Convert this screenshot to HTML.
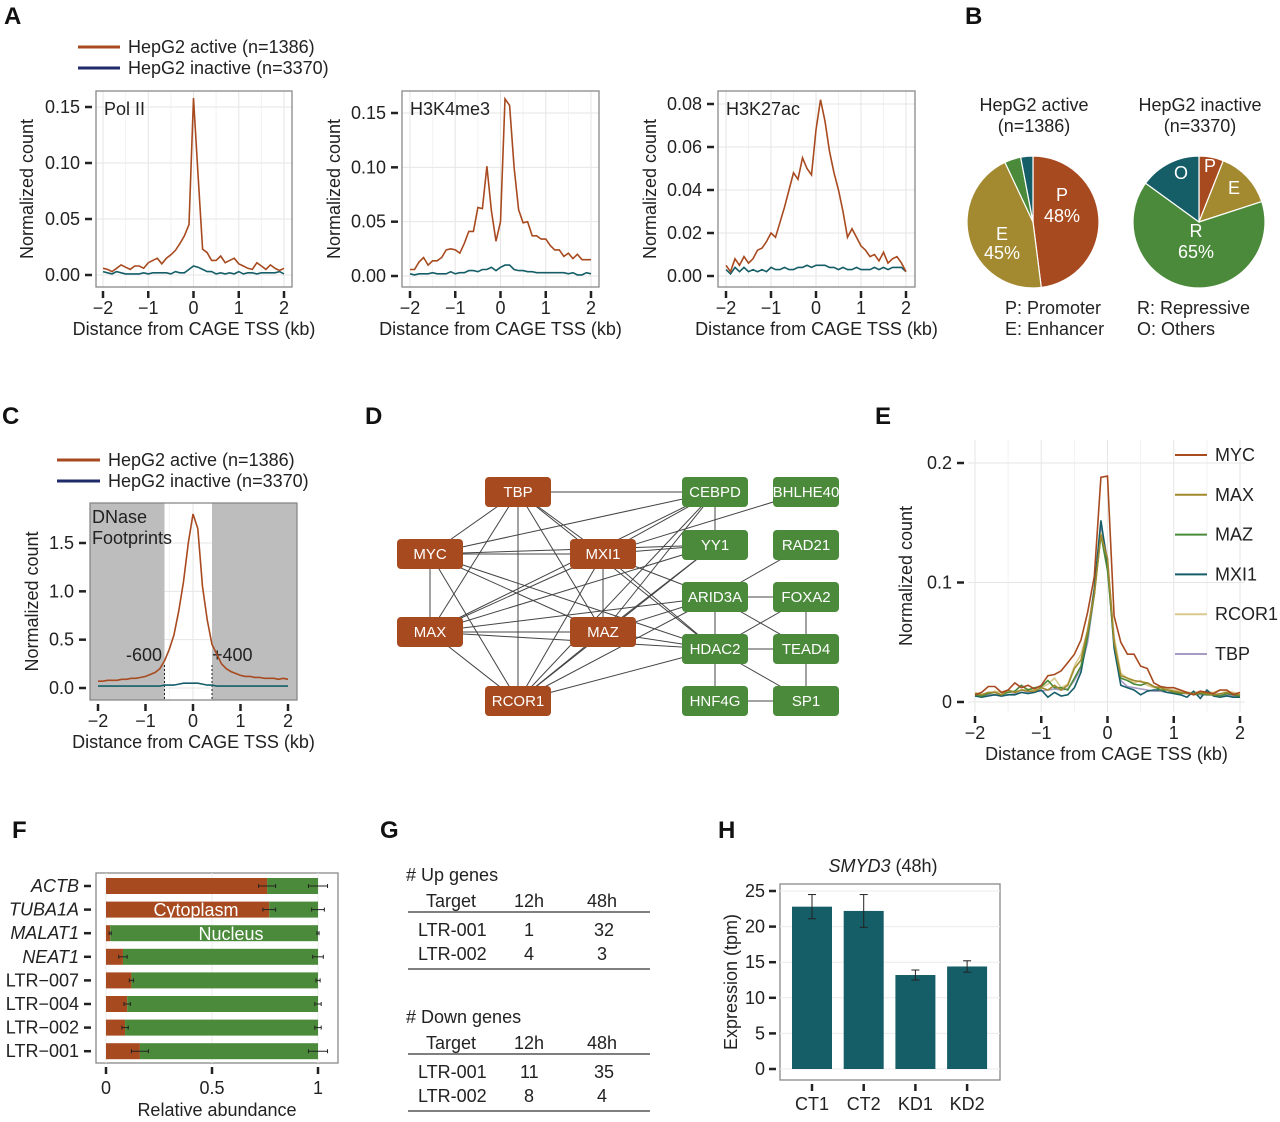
<!DOCTYPE html>
<html><head><meta charset="utf-8"><style>
html,body{margin:0;padding:0;background:#fff;}
svg{display:block;font-family:"Liberation Sans",Arial,sans-serif;}
</style></head><body>
<svg id="fig" width="1280" height="1122" viewBox="0 0 1280 1122" xmlns="http://www.w3.org/2000/svg">
<g font-weight="bold" font-size="24" fill="#111">
<text x="4" y="24">A</text>
<text x="965" y="24">B</text>
<text x="2" y="424">C</text>
<text x="365" y="424">D</text>
<text x="875" y="424">E</text>
<text x="12" y="838">F</text>
<text x="380" y="838">G</text>
<text x="718" y="838">H</text>
</g>
<g font-size="18" fill="#222">
<line x1="78" y1="47" x2="120" y2="47" stroke="#a84a1f" stroke-width="3"/><text x="128" y="53">HepG2 active (n=1386)</text>
<line x1="78" y1="68" x2="120" y2="68" stroke="#1f2a6b" stroke-width="3"/><text x="128" y="74">HepG2 inactive (n=3370)</text>
</g>
<g font-size="18" fill="#222">
<line x1="57" y1="460" x2="100" y2="460" stroke="#a84a1f" stroke-width="3"/><text x="108" y="466">HepG2 active (n=1386)</text>
<line x1="57" y1="481" x2="100" y2="481" stroke="#1f2a6b" stroke-width="3"/><text x="108" y="487">HepG2 inactive (n=3370)</text>
</g>
<g id="root"></g>
<g font-size="18" fill="#222">
<text x="406" y="881">#  Up genes</text>
<text x="426" y="907">Target</text><text x="514" y="907">12h</text><text x="587" y="907">48h</text>
<line x1="408" y1="912" x2="650" y2="912" stroke="#333" stroke-width="1.3"/>
<text x="418" y="936">LTR-001</text><text x="524" y="936">1</text><text x="594" y="936">32</text>
<text x="418" y="960">LTR-002</text><text x="524" y="960">4</text><text x="597" y="960">3</text>
<line x1="408" y1="969" x2="650" y2="969" stroke="#333" stroke-width="1.3"/>
<text x="406" y="1023">#  Down genes</text>
<text x="426" y="1049">Target</text><text x="514" y="1049">12h</text><text x="587" y="1049">48h</text>
<line x1="408" y1="1054" x2="650" y2="1054" stroke="#333" stroke-width="1.3"/>
<text x="418" y="1078">LTR-001</text><text x="520" y="1078">11</text><text x="594" y="1078">35</text>
<text x="418" y="1102">LTR-002</text><text x="524" y="1102">8</text><text x="597" y="1102">4</text>
<line x1="408" y1="1111" x2="650" y2="1111" stroke="#333" stroke-width="1.3"/>
</g>
</svg>
<script>
// ---------- DATA ----------
const distKb = []; for (let i = 0; i <= 40; i++) distKb.push(-2 + i * 0.1);
const polActive = [0.006,0.005,0.003,0.006,0.009,0.007,0.005,0.008,0.008,0.006,
 0.011,0.013,0.015,0.010,0.015,0.018,0.022,0.028,0.035,0.045,
 0.158,0.090,0.023,0.020,0.013,0.013,0.017,0.011,0.013,0.015,
 0.010,0.008,0.006,0.005,0.011,0.008,0.005,0.009,0.006,0.004,0.006];
const polInactive = [0.003,0.002,0.001,0.003,0.002,0.001,0.001,0.001,0.001,0.002,
 0.001,0.002,0.002,0.002,0.002,0.001,0.003,0.002,0.002,0.005,
 0.008,0.007,0.005,0.003,0.003,0.001,0.002,0.001,0.002,0.001,
 0.003,0.001,0.002,0.002,0.001,0.002,0.002,0.002,0.002,0.003,0.001];
const k4Active = [0.006,0.006,0.013,0.017,0.010,0.014,0.014,0.017,0.024,0.025,
 0.024,0.021,0.030,0.041,0.041,0.063,0.062,0.101,0.060,0.032,
 0.050,0.163,0.157,0.100,0.061,0.049,0.050,0.037,0.037,0.034,
 0.034,0.028,0.024,0.024,0.018,0.021,0.016,0.020,0.015,0.015,0.015];
const k4Inactive = [0.002,0.001,0.002,0.002,0.002,0.003,0.002,0.002,0.002,0.004,
 0.002,0.003,0.003,0.005,0.005,0.004,0.006,0.006,0.008,0.005,
 0.008,0.010,0.010,0.006,0.005,0.005,0.004,0.004,0.003,0.003,
 0.003,0.003,0.003,0.003,0.003,0.002,0.003,0.001,0.001,0.003,0.002];
const k27Active = [0.005,0.002,0.008,0.005,0.009,0.006,0.008,0.012,0.013,0.016,
 0.020,0.018,0.025,0.032,0.040,0.048,0.045,0.055,0.050,0.047,
 0.068,0.082,0.072,0.058,0.048,0.040,0.030,0.018,0.022,0.018,
 0.014,0.012,0.009,0.010,0.007,0.011,0.006,0.008,0.009,0.006,0.002];
const k27Inactive = [0.003,0.001,0.004,0.002,0.004,0.002,0.003,0.002,0.003,0.002,
 0.004,0.003,0.003,0.004,0.003,0.003,0.004,0.004,0.005,0.004,
 0.005,0.005,0.005,0.004,0.004,0.003,0.004,0.003,0.003,0.004,
 0.003,0.003,0.003,0.004,0.003,0.004,0.003,0.004,0.004,0.004,0.002];
const dnaseActive = [0.07,0.07,0.08,0.08,0.08,0.09,0.09,0.10,0.10,0.11,
 0.12,0.14,0.16,0.20,0.28,0.40,0.55,0.80,1.10,1.50,
 1.80,1.65,1.05,0.70,0.45,0.35,0.25,0.20,0.17,0.15,
 0.13,0.12,0.12,0.11,0.11,0.10,0.10,0.10,0.09,0.10,0.09];
const dnaseInactive = [0.02,0.02,0.02,0.02,0.02,0.02,0.02,0.02,0.02,0.02,
 0.02,0.02,0.02,0.02,0.03,0.03,0.03,0.04,0.05,0.05,
 0.05,0.05,0.04,0.03,0.03,0.02,0.02,0.02,0.02,0.02,
 0.02,0.02,0.02,0.02,0.02,0.02,0.02,0.02,0.02,0.02,0.02];
const tfNames = ["MYC","MAX","MAZ","MXI1","RCOR1","TBP"];
const tfMYC = [0.006,0.008,0.013,0.013,0.008,0.010,0.016,0.012,0.014,0.011,
 0.014,0.022,0.023,0.026,0.033,0.040,0.052,0.075,0.105,0.188,
 0.189,0.072,0.050,0.040,0.040,0.030,0.028,0.016,0.013,0.012,
 0.012,0.010,0.008,0.006,0.009,0.008,0.007,0.010,0.010,0.006,0.008];
const tfMAX = [0.007,0.006,0.008,0.008,0.006,0.010,0.008,0.010,0.009,0.009,
 0.012,0.010,0.014,0.010,0.014,0.028,0.035,0.060,0.090,0.140,
 0.120,0.050,0.022,0.020,0.018,0.017,0.016,0.013,0.012,0.010,
 0.009,0.008,0.007,0.007,0.008,0.007,0.006,0.007,0.008,0.007,0.006];
const tfMAZ = [0.006,0.005,0.007,0.008,0.006,0.008,0.009,0.014,0.010,0.012,
 0.013,0.018,0.012,0.012,0.010,0.020,0.030,0.055,0.090,0.140,
 0.110,0.050,0.020,0.018,0.015,0.014,0.016,0.013,0.010,0.010,
 0.008,0.007,0.008,0.006,0.007,0.006,0.006,0.005,0.007,0.006,0.005];
const tfMXI1 = [0.005,0.004,0.005,0.006,0.005,0.006,0.006,0.008,0.007,0.008,
 0.010,0.004,0.008,0.005,0.006,0.012,0.025,0.055,0.095,0.152,
 0.115,0.045,0.014,0.012,0.010,0.006,0.009,0.010,0.010,0.008,
 0.007,0.006,0.004,0.009,0.003,0.010,0.005,0.004,0.005,0.004,0.004];
const tfRCOR1 = [0.008,0.006,0.007,0.009,0.008,0.009,0.008,0.010,0.011,0.010,
 0.012,0.015,0.020,0.012,0.015,0.030,0.040,0.060,0.095,0.142,
 0.118,0.055,0.024,0.020,0.016,0.018,0.014,0.012,0.012,0.011,
 0.010,0.009,0.008,0.008,0.009,0.008,0.008,0.010,0.009,0.008,0.007];
const tfTBP = [0.005,0.005,0.006,0.006,0.005,0.006,0.007,0.008,0.008,0.009,
 0.009,0.010,0.011,0.010,0.011,0.018,0.028,0.050,0.090,0.148,
 0.120,0.050,0.018,0.013,0.012,0.011,0.010,0.009,0.009,0.008,
 0.008,0.007,0.007,0.007,0.006,0.006,0.006,0.006,0.006,0.005,0.005];
const pieActiveLabels = ["P","E","O","R"];
const pieActive = [48,45,4,3];
const pieInactiveLabels = ["P","E","R","O"];
const pieInactive = [6,14,65,15];
const geneNames = ["ACTB","TUBA1A","MALAT1","NEAT1","LTR−007","LTR−004","LTR−002","LTR−001"];
const cytoFrac = [0.76,0.77,0.02,0.08,0.12,0.10,0.09,0.16];
const cytoErr = [0.04,0.03,0.005,0.02,0.01,0.015,0.015,0.04];
const nucErr = [0.045,0.03,0.005,0.025,0.01,0.015,0.015,0.045];
const smydGroups = ["CT1","CT2","KD1","KD2"];
const smydValues = [22.8,22.2,13.2,14.4];
const smydErr = [1.7,2.3,0.7,0.8];

// ---------- helpers ----------
const NS = "http://www.w3.org/2000/svg";
const root = document.getElementById('root');
const FS = 18;
function mk(tag, attrs, parent) {
  const el = document.createElementNS(NS, tag);
  for (const k in attrs) el.setAttribute(k, attrs[k]);
  (parent || root).appendChild(el);
  return el;
}
function txt(s, attrs, parent) { const t = mk('text', attrs, parent); t.textContent = s; return t; }
const ORANGE = "#a84a1f", TEAL = "#155e68", GREEN = "#4a8a3a", OLIVE = "#a3892f";

function linePanel(o) {
  const xs = v => o.x0 + (v - o.xmin) / (o.xmax - o.xmin) * (o.x1 - o.x0);
  const ys = v => o.y0 - (v - o.ymin) / (o.ymax - o.ymin) * (o.y0 - o.y1);
  const g = mk('g', {});
  
  
  if (o.frame) {
    const fr = mk('rect', {x: o.fx0, y: o.fy0, width: o.fx1 - o.fx0, height: o.fy1 - o.fy0, fill: '#fff'}, g);
    
    
  }
  o.xticks.forEach(v => mk('line', {x1: xs(v), x2: xs(v), y1: o.fy0, y2: o.fy1, stroke: '#e6e6e6', 'stroke-width': 1}, g));
  o.xticks.slice(0, -1).forEach(v => mk('line', {x1: xs(v + 0.5), x2: xs(v + 0.5), y1: o.fy0, y2: o.fy1, stroke: '#f2f2f2', 'stroke-width': 1}, g));
  o.yticks.forEach(v => mk('line', {x1: o.fx0, x2: o.fx1, y1: ys(v), y2: ys(v), stroke: '#e6e6e6', 'stroke-width': 1}, g));
  if (o.shade) o.shade(g, xs);
  if (o.frame) {
    const fr = mk('rect', {x: o.fx0, y: o.fy0, width: o.fx1 - o.fx0, height: o.fy1 - o.fy0, fill: 'none', stroke: '#888', 'stroke-width': 1.3}, g);
    
    
  }
  o.yticks.forEach((v, i) => {
    mk('line', {x1: o.fx0 - 11, x2: o.fx0 - 4, y1: ys(v), y2: ys(v), stroke: '#222', 'stroke-width': 2.5}, g);
    const t = txt(o.ylabels[i], {x: o.fx0 - 16, y: ys(v) + 6, 'text-anchor': 'end', 'font-size': FS, fill: '#222'}, g);
    
    
  });
  o.xticks.forEach((v, i) => {
    mk('line', {x1: xs(v), x2: xs(v), y1: o.fy1 + 4, y2: o.fy1 + 11, stroke: '#222', 'stroke-width': 2.5}, g);
    const t = txt(o.xlabels[i], {x: xs(v), y: o.fy1 + 27, 'text-anchor': 'middle', 'font-size': FS, fill: '#222'}, g);
    
    
  });
  const xt = txt('Distance from CAGE TSS (kb)', {x: (o.xtitleX || (o.fx0 + o.fx1) / 2), y: o.fy1 + 48, 'text-anchor': 'middle', 'font-size': FS, fill: '#222'}, g);
  
  
  const yt = txt('Normalized count', {x: 0, y: 0, transform: `translate(${o.ytX},${(o.fy0 + o.fy1) / 2}) rotate(-90)`, 'text-anchor': 'middle', 'font-size': FS, fill: '#222'}, g);
  
  
  o.series.forEach(s => {
    const d = s.vals.map((v, i) => (i ? 'L' : 'M') + xs(distKb[i]).toFixed(1) + ',' + ys(v).toFixed(1)).join('');
    const p = mk('path', {d: d, fill: 'none', stroke: s.color, 'stroke-width': 1.6}, g);
    
    
  });
  if (o.title) {
    const t = txt(o.title, {x: o.fx0 + 8, y: o.fy0 + 24, 'font-size': FS, fill: '#222'}, g);
    
    
  }
  return {xs, ys, g};
}

// ---------- Panel A ----------
linePanel({name: 'chart-pol2', frame: true, fx0: 96, fx1: 292, fy0: 91, fy1: 287,
  xmin: -2, xmax: 2, x0: 103, x1: 284, ymin: 0, ymax: 0.15, y0: 275, y1: 107,
  xticks: [-2,-1,0,1,2], xlabels: ['−2','−1','0','1','2'],
  yticks: [0,0.05,0.10,0.15], ylabels: ['0.00','0.05','0.10','0.15'], ytX: 33, title: 'Pol II',
  series: [{vals: polInactive, color: TEAL, name: 'line-pol2-inactive'}, {vals: polActive, color: ORANGE, name: 'line-pol2-active'}]});
linePanel({name: 'chart-h3k4me3', frame: true, fx0: 402, fx1: 599, fy0: 91, fy1: 287,
  xmin: -2, xmax: 2, x0: 410, x1: 591, ymin: 0, ymax: 0.15, y0: 276, y1: 113,
  xticks: [-2,-1,0,1,2], xlabels: ['−2','−1','0','1','2'],
  yticks: [0,0.05,0.10,0.15], ylabels: ['0.00','0.05','0.10','0.15'], ytX: 340, title: 'H3K4me3',
  series: [{vals: k4Inactive, color: TEAL, name: 'line-h3k4me3-inactive'}, {vals: k4Active, color: ORANGE, name: 'line-h3k4me3-active'}]});
linePanel({name: 'chart-h3k27ac', frame: true, fx0: 718, fx1: 915, fy0: 91, fy1: 287,
  xmin: -2, xmax: 2, x0: 726, x1: 906, ymin: 0, ymax: 0.08, y0: 276, y1: 104,
  xticks: [-2,-1,0,1,2], xlabels: ['−2','−1','0','1','2'],
  yticks: [0,0.02,0.04,0.06,0.08], ylabels: ['0.00','0.02','0.04','0.06','0.08'], ytX: 656, title: 'H3K27ac',
  series: [{vals: k27Inactive, color: TEAL, name: 'line-h3k27ac-inactive'}, {vals: k27Active, color: ORANGE, name: 'line-h3k27ac-active'}]});

// ---------- Panel C ----------
linePanel({name: 'chart-dnase', frame: true, fx0: 90, fx1: 297, fy0: 503, fy1: 700,
  xmin: -2, xmax: 2, x0: 98, x1: 288, ymin: 0, ymax: 1.5, y0: 688, y1: 543,
  xticks: [-2,-1,0,1,2], xlabels: ['−2','−1','0','1','2'],
  yticks: [0,0.5,1.0,1.5], ylabels: ['0.0','0.5','1.0','1.5'], ytX: 38,
  shade: (g, xs) => {
    const a = mk('rect', {x: 90, y: 503, width: xs(-0.6) - 90, height: 197, fill: '#bdbdbd'}, g);
    
    
    const b = mk('rect', {x: xs(0.4), y: 503, width: 297 - xs(0.4), height: 197, fill: '#bdbdbd'}, g);
    
    
    mk('line', {x1: xs(-0.6), x2: xs(-0.6), y1: 665, y2: 700, stroke: '#222', 'stroke-dasharray': '2,2'}, g);
    mk('line', {x1: xs(0.4), x2: xs(0.4), y1: 665, y2: 700, stroke: '#222', 'stroke-dasharray': '2,2'}, g);
    txt('DNase', {x: 92, y: 523, 'font-size': FS, fill: '#222'}, g);
    txt('Footprints', {x: 92, y: 544, 'font-size': FS, fill: '#222'}, g);
    txt('-600', {x: 126, y: 661, 'font-size': FS, fill: '#222'}, g);
    txt('+400', {x: 212, y: 661, 'font-size': FS, fill: '#222'}, g);
  },
  series: [{vals: dnaseInactive, color: TEAL, name: 'line-dnase-inactive'}, {vals: dnaseActive, color: ORANGE, name: 'line-dnase-active'}]});

// ---------- Panel E ----------
const tfColors = [ORANGE, "#a0892c", "#4a8a3a", "#155e68", "#d9c98f", "#a79bc4"];
const tfSeries = [tfMYC, tfMAX, tfMAZ, tfMXI1, tfRCOR1, tfTBP];
linePanel({name: 'chart-tf-profiles', frame: false, fx0: 968, fx1: 1245, fy0: 440, fy1: 712,
  xmin: -2, xmax: 2, x0: 975, x1: 1240, ymin: 0, ymax: 0.2, y0: 702, y1: 463,
  xticks: [-2,-1,0,1,2], xlabels: ['−2','−1','0','1','2'],
  yticks: [0,0.1,0.2], ylabels: ['0','0.1','0.2'], ytX: 912,
  series: tfSeries.map((v, i) => ({vals: v, color: tfColors[i], name: 'line-' + tfNames[i].toLowerCase()})).reverse()});
tfNames.forEach((n, i) => {
  const y = 455 + i * 39.8;
  const g = mk('g', {});
  
  
  mk('line', {x1: 1175, x2: 1207, y1: y, y2: y, stroke: tfColors[i], 'stroke-width': 2}, g);
  txt(n, {x: 1215, y: y + 6, 'font-size': FS, fill: '#222'}, g);
});

// ---------- Panel B pies ----------
function pie(cx, cy, r, vals, labels, colors, name, labelPos) {
  const g = mk('g', {});
  
  
  const tot = vals.reduce((a, b) => a + b, 0);
  let a0 = 0;
  vals.forEach((v, i) => {
    const a1 = a0 + v / tot * 2 * Math.PI;
    const p0 = [cx + r * Math.sin(a0), cy - r * Math.cos(a0)], p1 = [cx + r * Math.sin(a1), cy - r * Math.cos(a1)];
    const large = (a1 - a0) > Math.PI ? 1 : 0;
    const s = mk('path', {d: `M${cx},${cy}L${p0[0]},${p0[1]}A${r},${r} 0 ${large} 1 ${p1[0]},${p1[1]}Z`, fill: colors[i], stroke: '#fff', 'stroke-width': 1.2}, g);
    
    
    a0 = a1;
  });
  labelPos.forEach(lp => txt(lp[0], {x: lp[1], y: lp[2], 'text-anchor': 'middle', 'font-size': FS, fill: '#fff'}, g));
}
pie(1033, 222, 66, pieActive, pieActiveLabels, [ORANGE, OLIVE, GREEN, TEAL], 'pie-active',
  [['P', 1062, 201], ['48%', 1062, 222], ['E', 1002, 240], ['45%', 1002, 259]]);
pie(1199, 222, 66, pieInactive, pieInactiveLabels, [ORANGE, OLIVE, GREEN, TEAL], 'pie-inactive',
  [['P', 1210, 172], ['E', 1234, 194], ['R', 1196, 237], ['65%', 1196, 258], ['O', 1181, 179]]);
[['HepG2 active', 1034, 111], ['(n=1386)', 1034, 132], ['HepG2 inactive', 1200, 111], ['(n=3370)', 1200, 132]].forEach(t => {
  const e = txt(t[0], {x: t[1], y: t[2], 'text-anchor': 'middle', 'font-size': FS, fill: '#222'});
  
  
});
[['P: Promoter', 1005, 314], ['E: Enhancer', 1005, 335], ['R: Repressive', 1137, 314], ['O: Others', 1137, 335]].forEach(t => {
  const e = txt(t[0], {x: t[1], y: t[2], 'font-size': FS, fill: '#222'});
  
  
});

// ---------- Panel D network ----------
const nodeNames = ["TBP","MYC","MXI1","MAX","MAZ","RCOR1","CEBPD","BHLHE40","YY1","RAD21","ARID3A","FOXA2","HDAC2","TEAD4","HNF4G","SP1"];
const nodeX = [518,430,603,430,603,518,715,806,715,806,715,806,715,806,715,806];
const nodeY = [492,554,554,632,632,701,492,492,545,545,597,597,649,649,701,701];
const edges = [["TBP","CEBPD"],["TBP","MYC"],["TBP","MXI1"],["TBP","MAX"],["TBP","MAZ"],["TBP","RCOR1"],["TBP","HDAC2"],
 ["MYC","MXI1"],["MYC","MAX"],["MYC","MAZ"],["MYC","RCOR1"],["MYC","CEBPD"],["MYC","YY1"],["MYC","HDAC2"],
 ["MXI1","CEBPD"],["MXI1","YY1"],["MXI1","BHLHE40"],["MXI1","MAZ"],["MXI1","MAX"],["MXI1","RCOR1"],["MXI1","ARID3A"],["MXI1","HDAC2"],
 ["MAX","MAZ"],["MAX","RCOR1"],["MAX","YY1"],["MAX","ARID3A"],["MAX","HDAC2"],["MAX","CEBPD"],
 ["MAZ","CEBPD"],["MAZ","YY1"],["MAZ","ARID3A"],["MAZ","HDAC2"],["MAZ","RCOR1"],
 ["RCOR1","YY1"],["RCOR1","ARID3A"],["RCOR1","HDAC2"],["RCOR1","CEBPD"],
 ["CEBPD","YY1"],["RAD21","ARID3A"],["ARID3A","FOXA2"],["ARID3A","HDAC2"],["ARID3A","TEAD4"],
 ["FOXA2","HDAC2"],["FOXA2","TEAD4"],["HDAC2","TEAD4"],["HDAC2","HNF4G"],["HDAC2","SP1"],["TEAD4","SP1"],["HNF4G","SP1"]];
const ni = n => nodeNames.indexOf(n);
edges.forEach(e => {
  const a = ni(e[0]), b = ni(e[1]);
  const l = mk('line', {x1: nodeX[a], y1: nodeY[a], x2: nodeX[b], y2: nodeY[b], stroke: '#444', 'stroke-width': 1});
  
  
});
nodeNames.forEach((n, i) => {
  const g = mk('g', {});
  
  
  mk('rect', {x: nodeX[i] - 33, y: nodeY[i] - 15, width: 66, height: 30, rx: 4, fill: i < 6 ? ORANGE : GREEN}, g);
  txt(n, {x: nodeX[i], y: nodeY[i] + 5, 'text-anchor': 'middle', 'font-size': 15, fill: '#fff'}, g);
});

// ---------- Panel F ----------
(function () {
  const x0 = 106, x1 = 318;
  const xs = v => x0 + v * (x1 - x0);
  const rowY = i => 886 + i * 23.6;
  const g = mk('g', {});
  
  
  mk('rect', {x: 96, y: 873, width: 242, height: 190, fill: '#fff', stroke: '#888', 'stroke-width': 1.3}, g);
  [0, 0.5, 1].forEach(v => mk('line', {x1: xs(v), x2: xs(v), y1: 873, y2: 1063, stroke: '#ebebeb'}, g));
  geneNames.forEach((n, i) => {
    const y = rowY(i);
    const c = mk('rect', {x: xs(0), y: y - 8, width: xs(cytoFrac[i]) - xs(0), height: 16, fill: ORANGE}, g);
    
    
    const nu = mk('rect', {x: xs(cytoFrac[i]), y: y - 8, width: xs(1) - xs(cytoFrac[i]), height: 16, fill: GREEN}, g);
    
    
    [[cytoFrac[i], cytoErr[i]], [1, nucErr[i]]].forEach(p => {
      mk('line', {x1: xs(p[0] - p[1]), x2: xs(p[0] + p[1]), y1: y, y2: y, stroke: '#222', 'stroke-width': 1}, g);
      mk('line', {x1: xs(p[0] - p[1]), x2: xs(p[0] - p[1]), y1: y - 2, y2: y + 2, stroke: '#222'}, g);
      mk('line', {x1: xs(p[0] + p[1]), x2: xs(p[0] + p[1]), y1: y - 2, y2: y + 2, stroke: '#222'}, g);
    });
    mk('line', {x1: 84, x2: 91, y1: y, y2: y, stroke: '#222', 'stroke-width': 2.5}, g);
    const t = txt(n, {x: 79, y: y + 6, 'text-anchor': 'end', 'font-size': FS, fill: '#222', 'font-style': i < 4 ? 'italic' : 'normal'}, g);
    
    
  });
  txt('Cytoplasm', {x: 196, y: 916, 'text-anchor': 'middle', 'font-size': FS, fill: '#fff'}, g);
  txt('Nucleus', {x: 231, y: 940, 'text-anchor': 'middle', 'font-size': FS, fill: '#fff'}, g);
  [[0, '0'], [0.5, '0.5'], [1, '1']].forEach(p => {
    mk('line', {x1: xs(p[0]), x2: xs(p[0]), y1: 1067, y2: 1074, stroke: '#222', 'stroke-width': 2.5}, g);
    const t = txt(p[1], {x: xs(p[0]), y: 1094, 'text-anchor': 'middle', 'font-size': FS, fill: '#222'}, g);
    
    
  });
  const xt = txt('Relative abundance', {x: 217, y: 1116, 'text-anchor': 'middle', 'font-size': FS, fill: '#222'}, g);
  
  
})();

// ---------- Panel H ----------
(function () {
  const y0 = 1069, y25 = 891;
  const ys = v => y0 - v / 25 * (y0 - y25);
  const xs = i => 812 + i * 51.7;
  const g = mk('g', {});
  
  
  mk('rect', {x: 780, y: 884, width: 220, height: 196, fill: '#fff', stroke: '#888', 'stroke-width': 1.3}, g);
  [0, 5, 10, 15, 20, 25].forEach(v => {
    mk('line', {x1: 780, x2: 1000, y1: ys(v), y2: ys(v), stroke: '#ebebeb'}, g);
    mk('line', {x1: 769, x2: 776, y1: ys(v), y2: ys(v), stroke: '#222', 'stroke-width': 2.5}, g);
    const t = txt(String(v), {x: 765, y: ys(v) + 6, 'text-anchor': 'end', 'font-size': FS, fill: '#222'}, g);
    
    
  });
  smydGroups.forEach((n, i) => {
    const b = mk('rect', {x: xs(i) - 20, y: ys(smydValues[i]), width: 40, height: ys(0) - ys(smydValues[i]), fill: '#155e68'}, g);
    
    
    const lo = ys(smydValues[i] - smydErr[i]), hi = ys(smydValues[i] + smydErr[i]);
    mk('line', {x1: xs(i), x2: xs(i), y1: lo, y2: hi, stroke: '#222'}, g);
    mk('line', {x1: xs(i) - 4, x2: xs(i) + 4, y1: lo, y2: lo, stroke: '#222'}, g);
    mk('line', {x1: xs(i) - 4, x2: xs(i) + 4, y1: hi, y2: hi, stroke: '#222'}, g);
    mk('line', {x1: xs(i), x2: xs(i), y1: 1084, y2: 1091, stroke: '#222', 'stroke-width': 2.5}, g);
    const t = txt(n, {x: xs(i), y: 1110, 'text-anchor': 'middle', 'font-size': FS, fill: '#222'}, g);
    
    
  });
  const yt = txt('Expression (tpm)', {x: 0, y: 0, transform: 'translate(737,982) rotate(-90)', 'text-anchor': 'middle', 'font-size': FS, fill: '#222'}, g);
  
  
  const tt = mk('text', {x: 883, y: 872, 'text-anchor': 'middle', 'font-size': FS, fill: '#222'}, g);
  tt.innerHTML = '<tspan font-style="italic">SMYD3</tspan> (48h)';
  
  
})();
</script>
</body></html>
